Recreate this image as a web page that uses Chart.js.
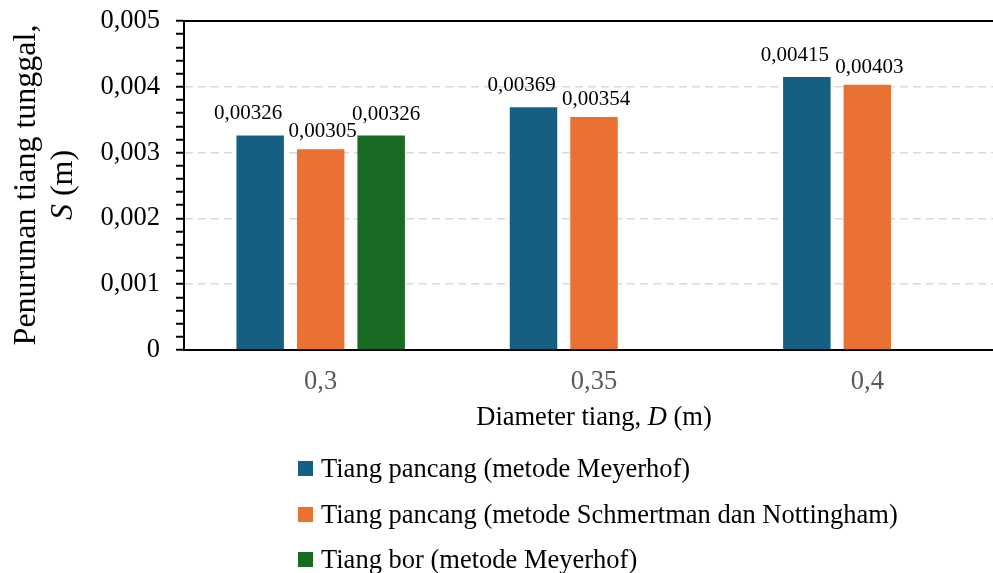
<!DOCTYPE html>
<html><head><meta charset="utf-8">
<script src="https://cdn.jsdelivr.net/npm/chart.js@4.4.1/dist/chart.umd.min.js"></script>
<style>
html,body{margin:0;padding:0;background:#fff;overflow:hidden;width:993px;height:573px;}
#wrap{position:relative;width:993px;height:573px;overflow:hidden;font-family:"Liberation Serif","Times New Roman",serif;color:#000;}
canvas{position:absolute;left:0;top:0;}
.ytitle{position:absolute;width:400px;height:74px;left:-157.5px;top:148px;transform:rotate(-90deg);text-align:center;font-size:32px;line-height:37px;white-space:nowrap;}
.xtitle{position:absolute;left:394px;width:400px;top:403px;text-align:center;font-size:26.5px;line-height:26.5px;white-space:nowrap;}
.row{position:absolute;left:298px;display:flex;align-items:center;white-space:nowrap;font-size:26.5px;line-height:26.5px;}
.sw{width:15px;height:15px;margin-right:8px;flex:none;}
</style></head>
<body><div id="wrap"><canvas id="c" width="1004" height="573"></canvas>
<div class="ytitle" id="yt">Penurunan tiang tunggal,<br><i>S</i> (m)</div>
<div class="xtitle" id="xt">Diameter tiang, <i>D</i> (m)</div>
<div id="lg"></div></div>
<script>
const categories = ['0,3', '0,35', '0,4'];
const seriesNames = [
  'Tiang pancang (metode Meyerhof)',
  'Tiang pancang (metode Schmertman dan Nottingham)',
  'Tiang bor (metode Meyerhof)'
];
const pancangMeyerhof = [0.00326, 0.00369, 0.00415];
const pancangSchmertman = [0.00305, 0.00354, 0.00403];
const borMeyerhof = [0.00326, null, null];
const seriesValues = [pancangMeyerhof, pancangSchmertman, borMeyerhof];
const seriesColors = ['#156082', '#E97132', '#196B24'];

const FONT = '"Liberation Serif", "Times New Roman", serif';
Chart.defaults.font.family = FONT;

const labelOffsets = [{dx: -12, gap: 16}, {dx: 2, gap: 12}, {dx: 5, gap: 15}];
const fmt = v => v.toFixed(5).replace('.', ',');
const isMajor = v => Math.abs(Math.round(v * 1000) - v * 1000) < 1e-6;

const dataLabels = {
  id: 'dataLabels',
  afterDatasetsDraw(chart) {
    const ctx = chart.ctx;
    ctx.save();
    ctx.font = '21px ' + FONT;
    ctx.fillStyle = '#000';
    ctx.textAlign = 'center';
    ctx.textBaseline = 'alphabetic';
    chart.data.datasets.forEach((ds, i) => {
      const meta = chart.getDatasetMeta(i);
      meta.data.forEach((bar, j) => {
        const v = ds.data[j];
        if (v == null) return;
        const o = labelOffsets[i];
        ctx.fillText(fmt(v), bar.x + o.dx, bar.y - o.gap);
      });
    });
    ctx.restore();
  }
};

new Chart(document.getElementById('c'), {
  type: 'bar',
  data: {
    labels: categories,
    datasets: seriesNames.map((n, i) => ({
      label: n,
      data: seriesValues[i],
      backgroundColor: seriesColors[i],
      borderWidth: 0,
      categoryPercentage: 0.664,
      barPercentage: 0.785
    }))
  },
  options: {
    responsive: false,
    animation: false,
    layout: {padding: {top: 21, left: 0, right: 0, bottom: 0}},
    plugins: {legend: {display: false}, tooltip: {enabled: false}},
    scales: {
      x: {
        type: 'category',
        offset: true,
        grid: {display: false, drawTicks: false},
        border: {display: true, color: '#000', width: 2},
        ticks: {color: '#595959', font: {size: 26.5, family: FONT}, padding: 16},
        afterFit(s) { s.height = 223; s.paddingLeft = 0; s.paddingRight = 0; }
      },
      xTop: {
        type: 'category',
        position: 'top',
        display: true,
        grid: {display: false, drawTicks: false},
        ticks: {display: false},
        border: {display: true, color: '#000', width: 2},
        afterFit(s) { s.height = 0; s.paddingLeft = 0; s.paddingRight = 0; }
      },
      y: {
        min: 0, max: 0.005,
        ticks: {
          stepSize: 0.0002,
          autoSkip: false,
          color: '#000',
          font: {size: 26.5, family: FONT},
          padding: 16,
          callback: v => isMajor(v) ? (v === 0 ? '0' : v.toFixed(3).replace('.', ',')) : ''
        },
        grid: {
          color: c => (c.tick && isMajor(c.tick.value) && c.tick.value > 0 && c.tick.value < 0.0049) ? '#d9d9d9' : 'rgba(0,0,0,0)',
          lineWidth: 1.5,
          drawTicks: true,
          tickLength: 8,
          tickColor: '#000',
          tickWidth: 2
        },
        border: {display: true, color: '#000', width: 2, dash: [8, 5]},
        afterFit(s) { s.width = 184; s.paddingTop = 0; s.paddingBottom = 0; }
      }
    }
  },
  plugins: [dataLabels]
});

const lg = document.getElementById('lg');
const rowCenters = [468.5, 514.5, 559.5];
seriesNames.forEach((n, i) => {
  const r = document.createElement('div');
  r.className = 'row';
  r.style.top = (rowCenters[i] - 13.25) + 'px';
  const sw = document.createElement('span');
  sw.className = 'sw';
  sw.style.background = seriesColors[i];
  const t = document.createElement('span');
  t.textContent = n;
  r.appendChild(sw); r.appendChild(t);
  lg.appendChild(r);
});
</script>
</body></html>
